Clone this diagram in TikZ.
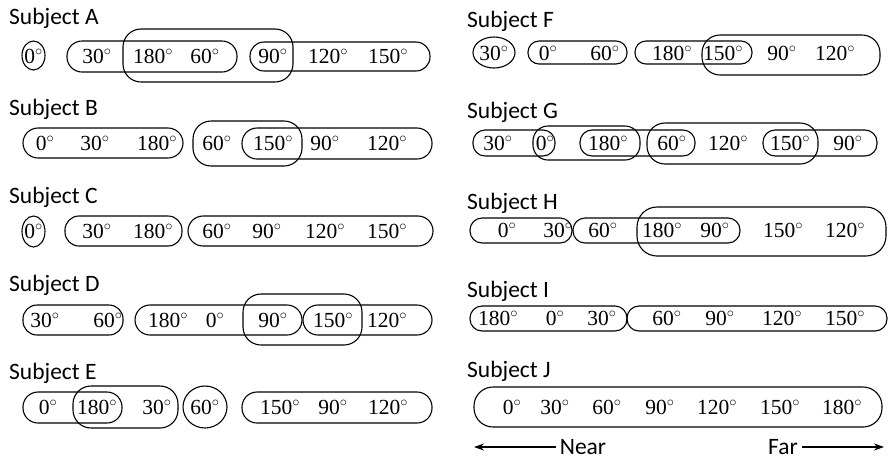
\documentclass[tikz,border=0pt]{standalone}
\usepackage{fontspec}
\setmainfont{Liberation Serif}
\newfontfamily\labfont{Carlito}
\usetikzlibrary{shapes.geometric,arrows.meta}
\newcommand\grp[6]{\node[grpbox, rounded corners=#6pt, minimum width={(#4-#2)*1pt}, minimum height={(#5-#3)*1pt}] (#1) at ({(#2+#4)/2},{(#3+#5)/2}) {};}
\newcommand\grpell[5]{\node[grpbox, ellipse, minimum width={(#4-#2)*1pt}, minimum height={(#5-#3)*1pt}] (#1) at ({(#2+#4)/2},{(#3+#5)/2}) {};}
\begin{document}
\begin{tikzpicture}[x=1pt,y=-1pt,
  grpbox/.style={draw, line width=1.1pt, inner sep=0pt, outer sep=0pt},
  deg/.style={font=\fontsize{21.5}{22}\selectfont, inner sep=0pt},
  subj/.style={font=\labfont\fontsize{23.5}{24}\selectfont, anchor=base west, inner sep=0pt},
  lbl/.style={font=\labfont\fontsize{23.5}{24}\selectfont, inner sep=4pt},
  arr/.style={-{Stealth[length=10pt,width=7pt]}, line width=1.1pt}]
\useasboundingbox (0,0) rectangle (889,459);

% Subject A
\node[subj] (sA) at (9,24) {Subject A};
\grpell{A1}{22}{41}{45}{70}
\grp{A2}{67}{41}{237}{72}{15}
\grp{A3}{123}{29}{293}{82}{18}
\grp{A4}{250}{42}{430}{71}{14}
\foreach \v/\x in {0/33.5,30/97,180/153,60/205,90/273,120/328,150/388}
  \node[deg] (A\v) at (\x,56) {\v$^\circ$};

% Subject B
\node[subj] (sB) at (9,115) {Subject B};
\grp{B1}{23}{128}{183}{158}{15}
\grp{B2}{193}{121}{302}{166}{18}
\grp{B3}{242}{128}{432}{159}{15}
\foreach \v/\x in {0/45,30/95,180/157,60/217,150/273,90/325,120/387}
  \node[deg] (B\v) at (\x,143) {\v$^\circ$};

% Subject C
\node[subj] (sC) at (9,203) {Subject C};
\grpell{C1}{22}{216}{45}{247}
\grp{C2}{65}{216}{182}{246}{14}
\grp{C3}{188}{216}{433}{246}{15}
\foreach \v/\x in {0/33.5,30/97,180/153,60/217,90/267,120/325,150/387}
  \node[deg] (C\v) at (\x,231) {\v$^\circ$};

% Subject D
\node[subj] (sD) at (9,291) {Subject D};
\grp{D1}{23}{305}{123}{335}{14}
\grp{D2}{135}{305}{302}{335}{15}
\grp{D3}{243}{294}{362}{345}{18}
\grp{D4}{303}{305}{432}{335}{15}
\foreach \v/\x in {30/45,60/108,180/168,0/215,90/273,150/333,120/387}
  \node[deg] (D\v) at (\x,320) {\v$^\circ$};

% Subject E
\node[subj] (sE) at (9,379) {Subject E};
\grp{E1}{23}{392}{122}{423}{15}
\grp{E2}{73}{386}{178}{428}{18}
\grpell{E3}{183}{386}{227}{428}
\grp{E4}{242}{392}{432}{423}{15}
\foreach \v/\x in {0/48,180/97,30/157,60/205,150/280,90/333,120/388}
  \node[deg] (E\v) at (\x,407) {\v$^\circ$};

% Subject F
\node[subj] (sF) at (467,27) {Subject F};
\grpell{F1}{473}{37}{515}{68}
\grp{F2}{528}{41}{627}{64}{11}
\grp{F3}{635}{41}{752}{64}{11}
\grp{F4}{702}{35}{880}{75}{18}
\foreach \v/\x in {30/494,0/548,60/605,180/672,150/723,90/782,120/835}
  \node[deg] (F\v) at (\x,53) {\v$^\circ$};

% Subject G
\node[subj] (sG) at (467,118) {Subject G};
\grp{G1}{473}{130}{555}{156}{12}
\grp{G2}{533}{126}{640}{160}{15}
\grp{G3}{580}{130}{695}{156}{12}
\grp{G4}{647}{123}{818}{164}{18}
\grp{G5}{763}{130}{877}{156}{12}
\foreach \v/\x in {30/498,0/545,180/608,60/672,120/728,150/790,90/848}
  \node[deg] (G\v) at (\x,143) {\v$^\circ$};

% Subject H
\node[subj] (sH) at (467,209) {Subject H};
\grp{H1}{470}{218}{572}{243}{12}
\grp{H2}{573}{218}{740}{243}{12}
\grp{H3}{637}{207}{886}{256}{20}
\foreach \v/\x in {0/507,30/558,60/603,180/662,90/715,150/783,120/845}
  \node[deg] (H\v) at (\x,230) {\v$^\circ$};

% Subject I
\node[subj] (sI) at (467,297) {Subject I};
\grp{I1}{470}{306}{627}{331}{12}
\grp{I2}{627}{306}{887}{331}{12}
\foreach \v/\x in {180/498,0/555,30/602,60/667,90/720,120/782,150/845}
  \node[deg] (I\v) at (\x,318) {\v$^\circ$};

% Subject J
\node[subj] (sJ) at (467,377) {Subject J};
\grp{J1}{474}{387}{882}{427}{19}
\foreach \v/\x in {0/512,30/555,60/607,90/660,120/717,150/780,180/842}
  \node[deg] (J\v) at (\x,407) {\v$^\circ$};

% Near / Far
\node[lbl] (near) at (583,447) {Near};
\node[lbl] (far) at (783,447) {Far};
\coordinate (nearend) at (474,447);
\coordinate (farend) at (884,447);
\draw[arr] (near.west) -- (nearend);
\draw[arr] (far.east) -- (farend);
\end{tikzpicture}
\end{document}
